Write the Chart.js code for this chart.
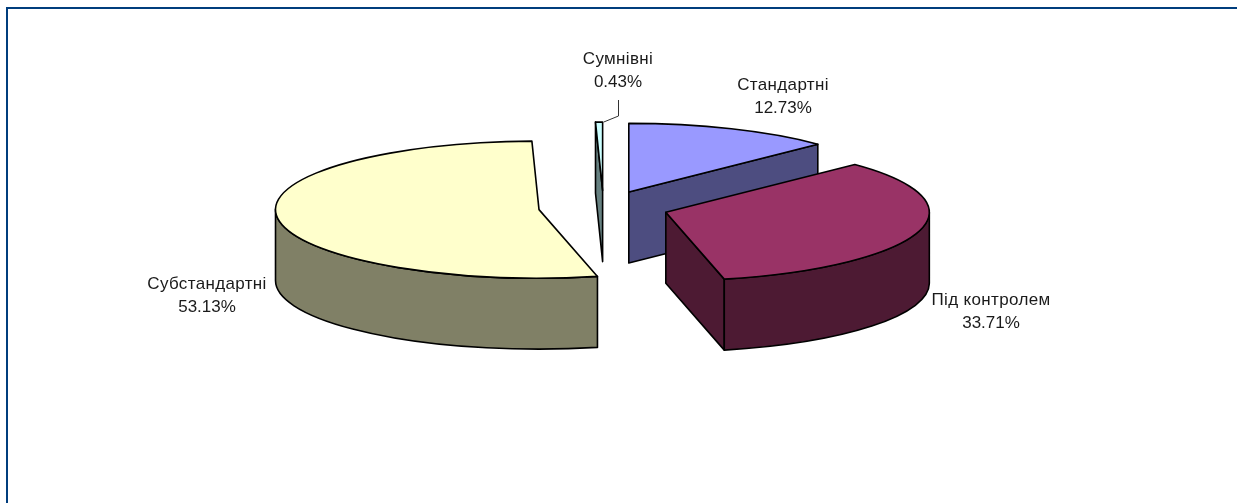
<!DOCTYPE html>
<html><head><meta charset="utf-8">
<style>html,body{margin:0;padding:0;background:#fff}canvas{display:block}</style>
<script src="https://cdn.jsdelivr.net/npm/chart.js@4/dist/chart.umd.js"></script>
</head><body>
<canvas id="c" width="1237" height="503"></canvas>
<script>
const categories = ['Стандартні', 'Під контролем', 'Субстандартні', 'Сумнівні'];
const shares = [12.73, 33.71, 53.13, 0.43];
const topColors = ['#9999ff', '#993366', '#ffffcc', '#ccffff'];
const sideColors = ['#4d4d80', '#4d1a33', '#808066', '#668080'];
const labelAnchors = [[783, 85], [991, 300], [207, 284], [618, 59]];

const tilt = 0.26, depth = 71, explode = 65, ink = '#000', edge = 1.6;

function geom(chart) {
  const a = chart.chartArea;
  return {cy: (a.top + a.bottom) / 2};
}
function screenFace(arc, cy) {
  return {x: arc.x, y: cy + tilt * (arc.y - cy), rx: arc.outerRadius, ry: arc.outerRadius * tilt};
}
const pie3d = {
  id: 'pie3d',
  afterDatasetsUpdate(chart) {
    chart.getDatasetMeta(0).data.forEach(arc => {
      const mid = (arc.startAngle + arc.endAngle) / 2;
      arc.x += Math.cos(mid) * explode;
      arc.y += Math.sin(mid) * explode;
    });
  },
  beforeDatasetDraw(chart) {
    const ctx = chart.ctx, {cy} = geom(chart);
    const arcs = chart.getDatasetMeta(0).data.map((arc, i) => ({arc, i}));
    arcs.sort((p, q) => p.arc.y - q.arc.y);
    ctx.save();
    ctx.lineWidth = edge; ctx.strokeStyle = ink; ctx.lineJoin = 'round';
    arcs.forEach(({arc, i}) => {
      const f = screenFace(arc, cy), a0 = arc.startAngle, a1 = arc.endAngle;
      ctx.fillStyle = sideColors[i];
      const cut = a => {
        const px = f.x + f.rx * Math.cos(a), py = f.y + f.ry * Math.sin(a);
        ctx.beginPath();
        ctx.moveTo(f.x, f.y); ctx.lineTo(px, py);
        ctx.lineTo(px, py + depth); ctx.lineTo(f.x, f.y + depth);
        ctx.closePath(); ctx.fill(); ctx.stroke();
      };
      if (-Math.cos(a0) > 1e-6) cut(a0);
      if (Math.cos(a1) > 1e-6) cut(a1);
      const w0 = Math.max(a0, 0), w1 = Math.min(a1, Math.PI);
      if (w1 > w0) {
        ctx.beginPath();
        ctx.ellipse(f.x, f.y, f.rx, f.ry, 0, w0, w1);
        ctx.ellipse(f.x, f.y + depth, f.rx, f.ry, 0, w1, w0, true);
        ctx.closePath(); ctx.fill(); ctx.stroke();
      }
    });
    ctx.restore();
    ctx.save();
    ctx.translate(0, cy); ctx.scale(1, tilt); ctx.translate(0, -cy);
  },
  afterDatasetDraw(chart) {
    const ctx = chart.ctx, {cy} = geom(chart);
    ctx.restore();
    ctx.save();
    ctx.lineWidth = edge; ctx.strokeStyle = ink; ctx.lineJoin = 'round';
    chart.getDatasetMeta(0).data.forEach(arc => {
      const f = screenFace(arc, cy);
      ctx.beginPath();
      ctx.moveTo(f.x, f.y);
      ctx.ellipse(f.x, f.y, f.rx, f.ry, 0, arc.startAngle, arc.endAngle);
      ctx.closePath(); ctx.stroke();
    });
    ctx.restore();
  },
  afterDraw(chart) {
    const ctx = chart.ctx, {cy} = geom(chart);
    ctx.save();
    ctx.fillStyle = '#003d7d';
    ctx.fillRect(6, 7, chart.width - 6, 2);
    ctx.fillRect(6, 7, 2, chart.height - 7);
    const small = chart.getDatasetMeta(0).data[3], f = screenFace(small, cy);
    ctx.strokeStyle = '#333'; ctx.lineWidth = 1;
    ctx.beginPath();
    ctx.moveTo(618.5, 100); ctx.lineTo(618.5, 116);
    ctx.lineTo(f.x + 1, f.y - f.ry);
    ctx.stroke();
    ctx.fillStyle = '#1a1a1a';
    ctx.font = '17px "Liberation Sans", Arial, sans-serif';
    ctx.textAlign = 'center'; ctx.textBaseline = 'middle';
    categories.forEach((name, i) => {
      const [x, y] = labelAnchors[i];
      ctx.letterSpacing = '0.35px';
      ctx.fillText(name, x, y);
      ctx.letterSpacing = '0px';
      ctx.fillText(shares[i].toFixed(2) + '%', x, y + 23.5);
    });
    ctx.restore();
  }
};

new Chart(document.getElementById('c'), {
  type: 'pie',
  data: {labels: categories, datasets: [{data: shares, backgroundColor: topColors, borderWidth: 0}]},
  options: {
    responsive: false, animation: false, radius: 263.5,
    layout: {padding: {left: 0, right: 30, top: 0, bottom: 88}},
    plugins: {legend: {display: false}, tooltip: {enabled: false}}
  },
  plugins: [pie3d]
});
</script>
</body></html>
